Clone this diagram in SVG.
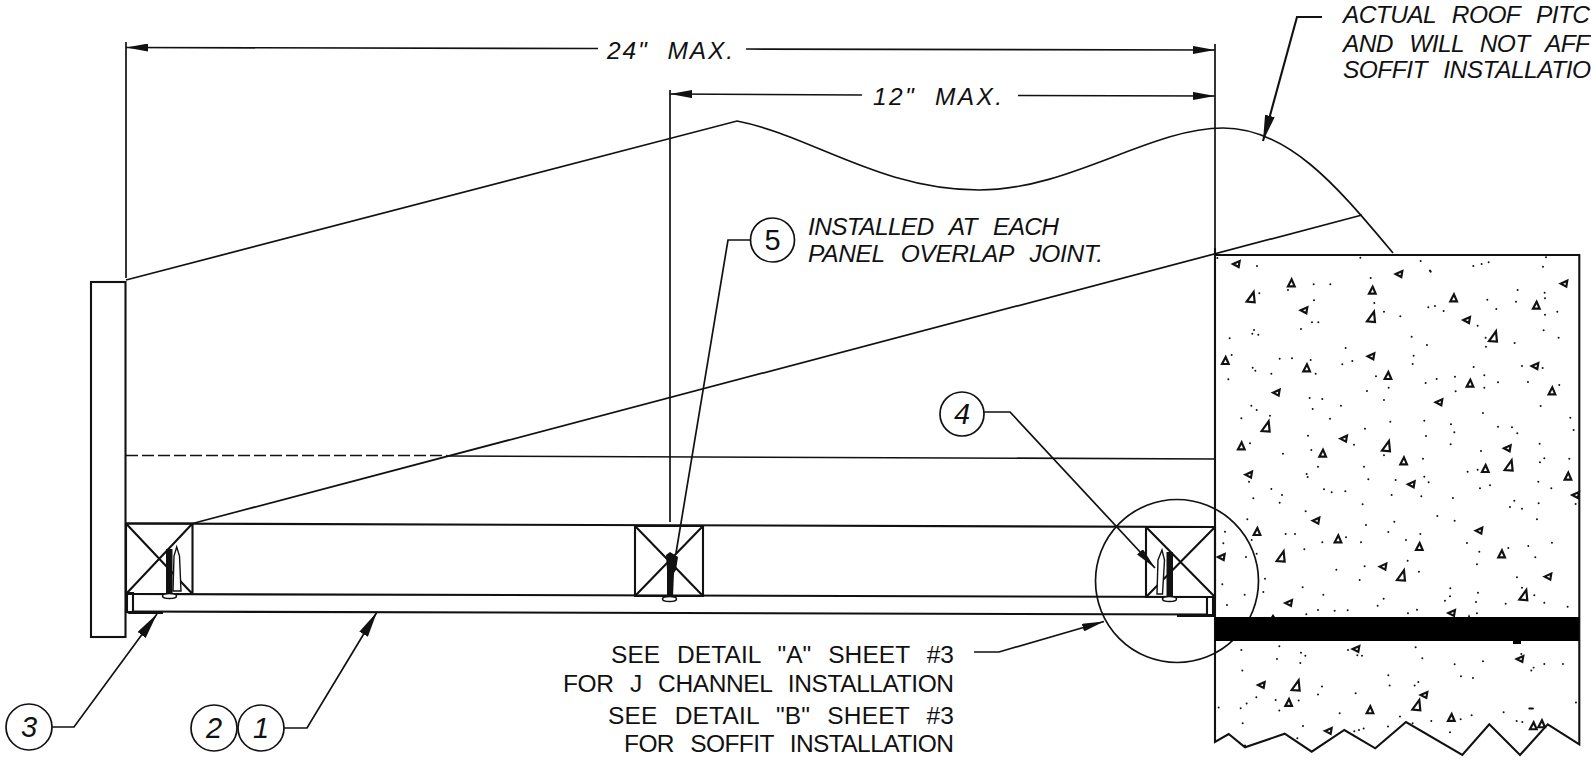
<svg xmlns="http://www.w3.org/2000/svg" width="1591" height="772" viewBox="0 0 1591 772">
<style>
.l{fill:none;stroke:#111;stroke-width:1.7}
.h{fill:none;stroke:#111;stroke-width:2.1}
.t{font-family:"Liberation Sans",Arial,sans-serif;font-size:24.5px;word-spacing:10px;fill:#111}
.i{font-style:italic}
.n{text-anchor:middle;font-size:29px}
.c{fill:#fff;stroke:#111;stroke-width:1.7}
.tri{fill:none;stroke:#111;stroke-width:6.5;stroke-linejoin:miter}
.dot{fill:none;stroke:#111;stroke-width:6;stroke-linecap:round}
</style>
<defs>
<marker id="a" markerUnits="userSpaceOnUse" markerWidth="22" markerHeight="8" refX="22" refY="4" orient="auto-start-reverse"><path d="M0 0L22 4L0 8z" fill="#111"/></marker>
<marker id="b" markerUnits="userSpaceOnUse" markerWidth="26" markerHeight="10" refX="26" refY="5" orient="auto"><path d="M0 0L26 5L0 10z" fill="#111"/></marker>
<polygon id="L" points="-11,0 9,-9 6,9"/>
<polygon id="S" points="1,-12 10,9 -10,9"/>
<polygon id="B" points="4,-17 7,14 -17,12"/>
</defs>
<rect width="1591" height="772" fill="#fff"/>

<g id="wall"><rect class="h" x="91" y="282" width="34.500" height="355" fill="#fff"/></g>

<g id="roof">
<path class="l" d="M126 280L737 121C810 135 880 190 979 190C1070 190 1150 128 1223 128C1290 128 1340 190 1393 253"/>
<path class="l" d="M192.500 523.500L1362 215"/>
<path class="l" d="M126 455.500H447" stroke-dasharray="12 4"/>
<path class="l" d="M447 456L1215 459"/>
</g>

<g id="concrete">
<path class="h" d="M1215 248V742L1228.700 734L1245 747.300L1284.700 733.700L1311.700 751.700L1344.300 730L1375.300 748.300L1406 722L1462.300 755L1489.300 724.300L1520 755L1547.700 724.300L1579.300 744.300V255H1215"/>
<rect x="1215" y="617" width="364" height="24" fill="#000"/>
<rect x="1513" y="640" width="8" height="4" fill="#000"/>
<path d="M1271 617l2-3 2 3zM1468 617l1-3 1 3z" fill="#000"/>
<g transform="translate(1210 250) scale(.3333)">
<g class="tri">
<use href="#L" x="80" y="42"/><use href="#B" x="127" y="143"/><use href="#S" x="244" y="100"/><use href="#L" x="283" y="181"/><use href="#S" x="487" y="122"/><use href="#B" x="488" y="202"/><use href="#L" x="568" y="72"/><use href="#S" x="731" y="145"/><use href="#L" x="771" y="210"/><use href="#B" x="854" y="261"/><use href="#S" x="979" y="167"/><use href="#L" x="1063" y="101"/><use href="#S" x="46" y="333"/><use href="#S" x="290" y="355"/><use href="#L" x="484" y="319"/><use href="#S" x="534" y="378"/><use href="#S" x="780" y="401"/><use href="#L" x="976" y="348"/><use href="#S" x="1026" y="424"/><use href="#L" x="200" y="428"/><use href="#L" x="688" y="457"/><use href="#B" x="172" y="531"/><use href="#S" x="94" y="589"/><use href="#L" x="402" y="566"/><use href="#S" x="338" y="611"/><use href="#B" x="533" y="590"/><use href="#S" x="581" y="634"/><use href="#L" x="117" y="674"/><use href="#L" x="605" y="703"/><use href="#L" x="893" y="595"/><use href="#B" x="901" y="648"/><use href="#S" x="826" y="657"/><use href="#S" x="1074" y="680"/><use href="#L" x="1098" y="735"/>
</g>
<g transform="translate(0 750)" class="tri">
<use href="#L" x="319" y="62"/><use href="#S" x="141" y="96"/><use href="#S" x="384" y="118"/><use href="#L" x="808" y="92"/><use href="#S" x="628" y="141"/><use href="#S" x="875" y="163"/><use href="#L" x="35" y="171"/><use href="#B" x="217" y="171"/><use href="#L" x="520" y="200"/><use href="#B" x="578" y="228"/><use href="#L" x="1015" y="230"/><use href="#B" x="945" y="287"/><use href="#L" x="237" y="309"/><use href="#L" x="726" y="339"/><use href="#L" x="439" y="447"/><use href="#L" x="931" y="477"/><use href="#L" x="155" y="555"/><use href="#B" x="262" y="558"/><use href="#L" x="643" y="585"/><use href="#S" x="236" y="609"/><use href="#B" x="624" y="617"/><use href="#S" x="480" y="631"/><use href="#S" x="724" y="654"/><use href="#L" x="356" y="693"/><use href="#S" x="970" y="679"/><use href="#S" x="995" y="673"/>
</g>
<path class="dot" d="M22 24h0M141 48h0M451 23h0M632 33h0M660 62l2 3M790 48h0M815 42h0M836 37h0M999 50h0M1008 22h0M311 103h0M361 103h0M234 120h0M148 130h0M312 151h0M482 84h0M493 159h0M522 185h0M571 199h0M306 217h0M325 217h0M273 237h0M132 240h0M127 251h0M145 254h0M59 265h0M655 172h0M675 168h0M701 183h0M832 149h0M859 177h0M918 155h0M923 120h0M1004 128h0M1005 145h0M1005 194h0M1042 185h0M803 227h0M827 263h0M828 290h0M914 279h0M1001 241h0M1046 263h0M605 260h0M651 285h0M407 294h0M65 315h0M209 326h0M246 325h0M302 330h0M397 343h0M427 333h0M611 317h0M608 342h0M128 353h0M136 362h0M184 371h0M317 371h0M55 388h0M498 379h0M536 413h0M471 423h0M791 351h0M936 348h0M998 354h0M823 376h0M735 380h0M680 387h0M647 399h0M737 424h0M823 413h0M864 397h0M954 396h0M1048 405h0M299 444h0M337 447h0M522 450h0M124 467h0M140 480h0M308 477h0M393 467h0M992 468h0M180 497h0M94 505h0M360 506h0M541 515h0M643 512h0M819 489h0M1081 503h0M723 523h0M733 547h0M864 530h0M906 532h0M922 550h0M1091 540h0M465 536h0M294 557h0M648 558h0M432 584h0M120 580h0M722 583h0M989 581h0M304 600h0M219 611h0M813 603h0M522 616h0M639 626h0M1003 625h0M990 637h0M1078 626h0M324 650h0M462 650h0M290 672h0M293 681h0M773 665h0M803 659h0M475 688h0M557 690h0M643 680h0M656 697h0M117 695h0M985 695h0M840 706h0M810 715h0M1024 715h0M184 717h0M342 718h0M365 727h0M406 724h0M216 735h0M130 745h0M545 735h0M634 739h0M729 744h0M209 758h0M458 763h0M913 752h0M900 771h0M936 776h0M986 760h0M1097 762h0"/>
<path class="dot" transform="translate(0 750)" d="M287 34h0M112 58h0M682 48h0M734 62h0M553 65h0M981 58h0M468 75h0M45 95h0M535 96h0M227 102h0M255 102h0M631 102h0M125 120h0M408 112h0M40 130h0M337 127h0M453 127h0M588 120h0M771 129h0M1026 128h0M283 148h0M955 138h0M895 144h0M140 161h0M108 171h0M808 155h0M976 172h0M593 182h0M801 193h0M464 199h0M379 209h0M627 215h0M165 236h0M449 240h0M921 232h0M37 253h0M278 262h0M721 265h0M936 263h0M804 278h0M160 276h0M104 284h0M340 284h0M720 289h0M973 286h0M521 296h0M705 302h0M51 315h0M503 317h0M798 306h0M887 311h0M1003 308h0M1073 320h0M324 330h0M374 332h0M413 331h0M621 329h0M594 340h0M289 343h0M801 340h0M208 439h0M94 450h0M617 442h0M201 477h0M273 458h0M286 467h0M271 489h0M414 450h0M442 466h0M456 467h0M637 475h0M934 462h0M734 493h0M819 484h0M1003 492h0M1059 492h0M971 503h0M964 512h0M97 512h0M535 526h0M753 529h0M789 534h0M625 546h0M539 557h0M614 557h0M336 560h0M324 584h0M437 580h0M139 592h0M197 600h0M266 602h0M110 611h0M92 625h0M26 623h0M208 632h0M1098 608h0M389 640h0M881 637h0M570 650h0M785 646h0M752 658h0M98 670h0M664 663h0M920 663h0M937 666h0M608 670h0M279 678h0M534 680h0M461 686h0M447 690h0M433 694h0M720 697h0M262 715h0M105 737h0M958 626h11"/>
</g>
</g>

<g id="framing">
<path class="h" d="M126 523.500L1215 527M130 594L1215 597M130 611.500L1215 614.500"/>
<path class="h" d="M127 593H133V612H127zM1207 597H1213V615H1207z" style="fill:#fff"/>
<path d="M127 611V612C127 614 129 614 131 614H163V611.500zM1177 614.500V617H1215V614.500z" fill="#111"/>
</g>

<g id="block-left">
<path class="h" d="M126 523.500H192.500V594H126zM126 523.500L192.500 594M126 594L192.500 523.500"/>
<rect x="166" y="549" width="6.500" height="45" fill="#111"/>
<path d="M173 591L174 556L176.700 547L179.500 556L181 591z" fill="#fff" stroke="#111" stroke-width="1.400"/>
<ellipse cx="169.500" cy="596" rx="7" ry="2.500" fill="#fff" stroke="#111" stroke-width="1.500"/>
</g>
<g id="block-middle">
<path class="h" d="M635 526H703V596H635zM635 526L703 596M635 596L703 526"/>
<path d="M666 555L670 552L678 557L676 570L674 573L673 597H667L667 570z" fill="#111"/>
<ellipse cx="669.500" cy="599" rx="7" ry="2.500" fill="#fff" stroke="#111" stroke-width="1.500"/>
</g>
<g id="block-right">
<path class="h" d="M1146 527H1215V597H1146zM1146 527L1215 597M1146 597L1215 527"/>
<rect x="1166.500" y="552" width="6.500" height="46" fill="#111"/>
<path d="M1157 594L1158 560L1162 550L1164.500 560L1162.500 594z" fill="#fff" stroke="#111" stroke-width="1.400"/>
<ellipse cx="1169.500" cy="599" rx="7" ry="2.500" fill="#fff" stroke="#111" stroke-width="1.500"/>
</g>

<g id="detail-circle"><circle class="l" cx="1177" cy="581" r="81.500"/><rect x="1215" y="617" width="60" height="24" fill="#000"/></g>

<g id="connectors">
<path class="l" d="M126 42V278"/>
<path class="l" d="M1215 44V250"/>
<path class="l" d="M670 90V522"/>
<path class="l" marker-start="url(#a)" d="M126 47.500L598 48.500"/>
<path class="l" marker-end="url(#a)" d="M746 49L1215 50"/>
<path class="l" marker-start="url(#a)" d="M670 94L862 95"/>
<path class="l" marker-end="url(#a)" d="M1018 95.500L1215 96"/>
<path class="h" marker-end="url(#b)" d="M1322 17H1297L1263 141"/>
<path class="l" marker-end="url(#b)" d="M52 727H74L157 614"/>
<path class="l" marker-end="url(#b)" d="M284 728H307L377 612"/>
<path class="l" d="M750 240H728L676 553"/>
<path class="l" marker-end="url(#a)" d="M984 412H1010L1155 568"/>
<path class="l" marker-end="url(#a)" d="M974 652H999L1104 621.500"/>
</g>

<g id="callout-1"><circle class="c" cx="261" cy="728" r="23"/><text class="t i n" x="261" y="738">1</text></g>
<g id="callout-2"><circle class="c" cx="214" cy="728" r="23"/><text class="t i n" x="214" y="738">2</text></g>
<g id="callout-3"><circle class="c" cx="29" cy="727" r="23"/><text class="t i n" x="29" y="737">3</text></g>
<g id="callout-4"><circle class="c" cx="962" cy="414" r="22"/><text class="t i n" x="962" y="424">4</text></g>
<g id="callout-5"><circle class="c" cx="772.500" cy="240" r="22"/><text class="t n" x="772.500" y="250">5</text></g>

<g id="labels">
<text class="t i" x="607" y="59" textLength="126">24" MAX.</text>
<text class="t i" x="873" y="105" textLength="129">12" MAX.</text>
<text class="t i" x="1343" y="23" textLength="247">ACTUAL ROOF PITC</text>
<text class="t i" x="1343" y="52" textLength="247">AND WILL NOT AFF</text>
<text class="t i" x="1343" y="78" textLength="248">SOFFIT INSTALLATIO</text>
<text class="t i" x="808" y="235" textLength="251">INSTALLED AT EACH</text>
<text class="t i" x="808" y="262" textLength="295">PANEL OVERLAP JOINT.</text>
<text class="t" x="611" y="663" textLength="343">SEE DETAIL "A" SHEET #3</text>
<text class="t" x="563" y="692" textLength="391">FOR J CHANNEL INSTALLATION</text>
<text class="t" x="608" y="724" textLength="346">SEE DETAIL "B" SHEET #3</text>
<text class="t" x="624" y="752" textLength="330">FOR SOFFIT INSTALLATION</text>
</g>
</svg>
